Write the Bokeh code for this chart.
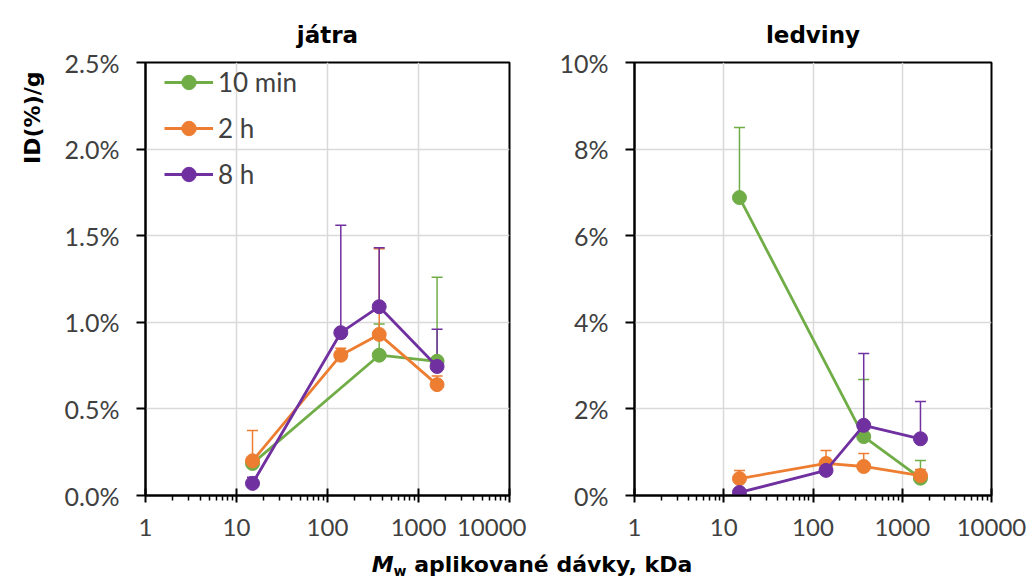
import math
from bokeh.plotting import figure
from bokeh.layouts import row, column
from bokeh.models import (ColumnDataSource, Whisker, TeeHead, FixedTicker, PrintfTickFormatter,
                          Legend, LegendItem, Title, Div, Range1d)
from bokeh.embed import file_html
from bokeh.resources import INLINE

# ---------------- data ----------------
mw_kda = [15, 140, 370, 1600]
x_ticks = [1, 10, 100, 1000, 10000]
series_names = ["10 min", "2 h", "8 h"]
series_colors = ["#70ad47", "#ed7d31", "#7030a0"]

# liver (játra), ID(%)/g
jatra_10min = [0.185, None, 0.81, 0.775]
jatra_10min_err = [0.02, None, 0.18, 0.485]
jatra_2h = [0.20, 0.81, 0.93, 0.64]
jatra_2h_err = [0.175, 0.04, 0.495, 0.05]
jatra_8h = [0.07, 0.94, 1.09, 0.745]
jatra_8h_err = [0.035, 0.62, 0.34, 0.215]

# kidneys (ledviny), ID(%)/g
ledviny_10min = [6.88, None, 1.36, 0.40]
ledviny_10min_err = [1.62, None, 1.32, 0.41]
ledviny_2h = [0.39, 0.74, 0.67, 0.46]
ledviny_2h_err = [0.19, 0.30, 0.30, 0.14]
ledviny_8h = [0.07, 0.58, 1.62, 1.31]
ledviny_8h_err = [0.03, 0.05, 1.66, 0.86]

jatra_y_ticks = [0.0, 0.5, 1.0, 1.5, 2.0, 2.5]
ledviny_y_ticks = [0, 2, 4, 6, 8, 10]

TICK_FONT = "Lato"
BOLD_FONT = "DejaVu Sans"
TICK_COLOR = "#404040"
GRID_COLOR = "#d9d9d9"

minor = [m * 10 ** d for d in range(0, 4) for m in range(2, 10)]


def make_panel(title, series, yticks, ymax, fmt, width, border_left, border_right, legend=False):
    p = figure(width=width, height=549, x_axis_type="log", output_backend="svg",
               toolbar_location=None, x_range=Range1d(1, 10000), y_range=Range1d(0, ymax),
               min_border_left=border_left, min_border_right=border_right,
               min_border_top=62, min_border_bottom=54)
    p.title.text = title
    p.title.align = "center"
    p.title.text_font = BOLD_FONT
    p.title.text_font_style = "bold"
    p.title.text_font_size = "23px"
    p.title.text_color = "#000000"
    p.title.standoff = 29
    p.outline_line_color = "#000000"
    p.outline_line_width = 2
    p.background_fill_color = "white"
    p.border_fill_color = "white"

    xa = p.xaxis[0]
    xa.ticker = FixedTicker(ticks=x_ticks, minor_ticks=minor)
    xa.major_label_overrides = {t: str(t) for t in x_ticks}
    xa.axis_line_color = "#000000"
    xa.axis_line_width = 2
    xa.major_tick_line_color = "#000000"
    xa.major_tick_line_width = 2
    xa.major_tick_in = 7
    xa.major_tick_out = 7
    xa.minor_tick_line_color = "#000000"
    xa.minor_tick_line_width = 1.5
    xa.minor_tick_in = 0
    xa.minor_tick_out = 5
    xa.major_label_text_font = TICK_FONT
    xa.major_label_text_font_size = "24px"
    xa.major_label_text_color = TICK_COLOR
    xa.major_label_standoff = 16

    ya = p.yaxis[0]
    ya.ticker = FixedTicker(ticks=yticks)
    ya.formatter = PrintfTickFormatter(format=fmt)
    ya.axis_line_color = "#000000"
    ya.axis_line_width = 2
    ya.major_tick_line_color = "#000000"
    ya.major_tick_line_width = 2
    ya.major_tick_in = 0
    ya.major_tick_out = 9
    ya.minor_tick_line_color = None
    ya.major_label_text_font = TICK_FONT
    ya.major_label_text_font_size = "25px"
    ya.major_label_text_color = TICK_COLOR
    ya.major_label_standoff = 17

    # interior grid lines only, so the black frame stays visible on the edges
    p.xgrid.ticker = FixedTicker(ticks=x_ticks[1:-1])
    p.ygrid.ticker = FixedTicker(ticks=yticks[1:-1])
    for g in (p.xgrid[0], p.ygrid[0]):
        g.grid_line_color = GRID_COLOR
        g.grid_line_width = 1.5

    items = []
    for name, color, (vals, errs) in zip(series_names, series_colors, series):
        xs, ys, ups = [], [], []
        for xv, v, e in zip(mw_kda, vals, errs):
            if v is None:
                continue
            xs.append(xv)
            ys.append(v)
            ups.append(v + e)
        src = ColumnDataSource(dict(x=xs, y=ys, up=ups))
        w = Whisker(source=src, base="x", lower="y", upper="up", dimension="height",
                    line_color=color, line_width=1.5, lower_head=None,
                    upper_head=TeeHead(size=11, line_color=color, line_width=1.5))
        p.add_layout(w)
        r1 = p.line("x", "y", source=src, line_color=color, line_width=2.8)
        r2 = p.scatter("x", "y", source=src, marker="circle", size=14,
                       fill_color=color, line_color=color)
        items.append(LegendItem(label=name, renderers=[r1, r2]))

    if legend:
        lg = Legend(items=items, location=(19, 303), padding=0, margin=0,
                    glyph_width=49, glyph_height=36, label_height=36, spacing=10,
                    label_standoff=5, label_text_font=TICK_FONT, label_text_font_size="26px",
                    label_text_color=TICK_COLOR, border_line_alpha=0, background_fill_alpha=0)
        p.add_layout(lg, "center")
        p.add_layout(Title(text="ID(%)/g", align="right", vertical_align="top",
                           text_font=BOLD_FONT, text_font_style="bold", text_font_size="22px",
                           text_color="#000000", standoff=30, offset=9), "left")
    return p


p1 = make_panel("játra",
                [(jatra_10min, jatra_10min_err), (jatra_2h, jatra_2h_err), (jatra_8h, jatra_8h_err)],
                jatra_y_ticks, 2.5, "%.1f%%", 526, 145, 17, legend=True)
p2 = make_panel("ledviny",
                [(ledviny_10min, ledviny_10min_err), (ledviny_2h, ledviny_2h_err), (ledviny_8h, ledviny_8h_err)],
                ledviny_y_ticks, 10, "%d%%", 500, 108, 35)

xlabel = Div(text="<i>M</i><span style='font-size:14px;vertical-align:-4px'>w</span> aplikované dávky, kDa",
             width=1026, height=17,
             styles={"font-family": "DejaVu Sans", "font-weight": "bold", "font-size": "22px",
                     "color": "#000000", "text-align": "center", "padding-top": "5px",
                     "padding-left": "28px",
                     "line-height": "12px", "box-sizing": "border-box",
                     "width": "1026px", "overflow": "visible"})

layout = column(row(p1, p2, spacing=0), xlabel, spacing=0)

open("out.html", "w").write(file_html(layout, INLINE))
